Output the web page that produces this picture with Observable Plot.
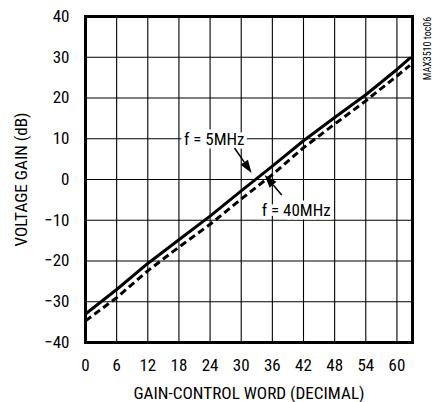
<!DOCTYPE html>
<html>
<head>
<meta charset="utf-8">
<script src="https://cdn.jsdelivr.net/npm/d3@7"></script>
<script src="https://cdn.jsdelivr.net/npm/@observablehq/plot@0.6"></script>
<style>
  html, body { margin: 0; padding: 0; background: #fff; }
  #chart svg { display: block; }
</style>
</head>
<body>
<div id="chart"></div>
<script>
// ---- data ----
const gainWord = [0, 6, 12, 18, 24, 30, 36, 42, 48, 54, 60, 62.5];
const gain5MHz = [-33, -27, -20.6, -14.8, -9, -2.8, 3.3, 9.5, 15.2, 20.8, 27, 29.8];
const gain40MHz = [-34.7, -29, -22.4, -16.6, -11, -4.8, 1.2, 7.8, 13.6, 19.3, 25.4, 28];
const xTicks = [0, 6, 12, 18, 24, 30, 36, 42, 48, 54, 60];
const yTicks = [-40, -30, -20, -10, 0, 10, 20, 30, 40];
const labels = ["f = 5MHz", "f = 40MHz"];
const labelX = [24.8, 40.6];
const labelY = [9.8, -7.6];
const arrowFromX = [28.8, 37.9];
const arrowFromY = [7.6, -3.9];
const arrowToX = [32.1, 34.6];
const arrowToY = [1.5, 1.0];

const series = [
  ...gainWord.map((x, i) => ({x, y: gain5MHz[i], s: "5MHz"})),
  ...gainWord.map((x, i) => ({x, y: gain40MHz[i], s: "40MHz"}))
];
const labelData = labels.map((t, i) => ({t, x: labelX[i], y: labelY[i]}));
const arrowData = labels.map((t, i) => ({x1: arrowFromX[i], y1: arrowFromY[i], x2: arrowToX[i], y2: arrowToY[i]}));

// ---- font detection ----
const cv = document.createElement("canvas").getContext("2d");
function hasFont(name) {
  const s = "abcdefghijklmnopqrstuvwxyzABCDEFGHIJKLMNOPQRSTUVWXYZ0123456789";
  cv.font = "20px monospace"; const w0 = cv.measureText(s).width;
  cv.font = `20px '${name}', monospace`; const w1 = cv.measureText(s).width;
  return Math.abs(w1 - w0) > 0.5;
}
let FONT, TICK, LAB, AXL, SMALL;
if (hasFont("Liberation Sans Narrow")) { FONT = "'Liberation Sans Narrow'"; TICK = 17.5; LAB = 17; AXL = 16.5; SMALL = 10; }
else if (hasFont("Arial Narrow")) { FONT = "'Arial Narrow'"; TICK = 17.5; LAB = 17; AXL = 16.5; SMALL = 10; }
else if (hasFont("Roboto Condensed")) { FONT = "'Roboto Condensed'"; TICK = 17; LAB = 17; AXL = 17.2; SMALL = 10; }
else { FONT = "'Liberation Sans', Arial, sans-serif"; TICK = 15; LAB = 14.5; AXL = 13.8; SMALL = 8.5; }

function filledArrows(index, scales) {
  const g = d3.create("svg:g");
  for (const a of arrowData) {
    const x1 = scales.x(a.x1), y1 = scales.y(a.y1);
    const x2 = scales.x(a.x2), y2 = scales.y(a.y2);
    const ang = Math.atan2(y2 - y1, x2 - x1);
    const L = 13, W = 4.5;
    const bx = x2 - L * Math.cos(ang), by = y2 - L * Math.sin(ang);
    g.append("line").attr("x1", x1).attr("y1", y1).attr("x2", bx).attr("y2", by)
      .attr("stroke", "black").attr("stroke-width", 1.5);
    const px = -Math.sin(ang) * W, py = Math.cos(ang) * W;
    g.append("polygon")
      .attr("points", `${x2},${y2} ${bx + px},${by + py} ${bx - px},${by - py}`)
      .attr("fill", "black");
  }
  return g.node();
}

const chart = Plot.plot({
  width: 436,
  height: 402,
  marginLeft: 85,
  marginRight: 24,
  marginTop: 16,
  marginBottom: 60,
  style: {fontFamily: FONT, fontSize: TICK + "px", background: "white", color: "black"},
  x: {domain: [0, 63], ticks: xTicks, tickSize: 0, tickPadding: 16, label: null},
  y: {domain: [-40, 40], ticks: yTicks, tickSize: 0, tickPadding: 16, label: null},
  marks: [
    Plot.ruleX(xTicks.filter(d => d > 0), {stroke: "black", strokeWidth: 1.1}),
    Plot.ruleY(yTicks.filter(d => d > -40 && d < 40), {stroke: "black", strokeWidth: 1.1}),
    Plot.line(series.filter(d => d.s === "5MHz"), {x: "x", y: "y", stroke: "black", strokeWidth: 3}),
    Plot.line(series.filter(d => d.s === "40MHz"), {x: "x", y: "y", stroke: "black", strokeWidth: 3, strokeDasharray: "7 4", strokeLinecap: "butt"}),
    Plot.text(labelData, {x: "x", y: "y", text: "t", fill: "black", stroke: "white", strokeWidth: 7, fontSize: LAB}),
    filledArrows,
    Plot.frame({stroke: "black", strokeWidth: 3}),
    Plot.text(["GAIN-CONTROL WORD (DECIMAL)"], {frameAnchor: "bottom", textAnchor: "middle", lineAnchor: "middle", dy: 51, text: d => d, fontSize: AXL, fill: "black"}),
    Plot.text(["VOLTAGE GAIN (dB)"], {frameAnchor: "left", textAnchor: "middle", lineAnchor: "middle", dx: -64, rotate: -90, text: d => d, fontSize: AXL, fill: "black"}),
    Plot.text(["MAX3510 toc06"], {frameAnchor: "top-right", textAnchor: "middle", lineAnchor: "middle", dx: 15, dy: 32, rotate: -90, text: d => d, fontSize: SMALL, fill: "black"})
  ]
});
document.getElementById("chart").appendChild(chart);
</script>
</body>
</html>
